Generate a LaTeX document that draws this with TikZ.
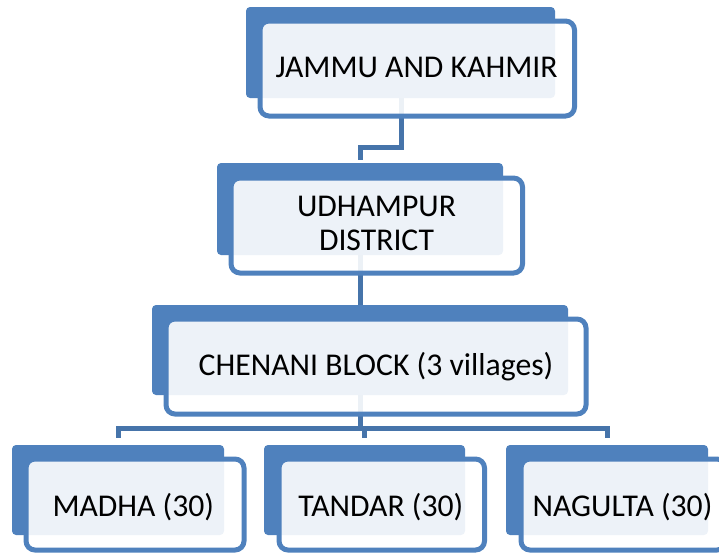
\documentclass[tikz,border=0pt]{standalone}
\usepackage{fontspec}
\setmainfont{Carlito}
\definecolor{boxblue}{HTML}{4F81BD}
\definecolor{linkblue}{HTML}{4674AA}
\tikzset{
  backbox/.style={fill=boxblue, rounded corners=4pt},
  frontbox/.style={draw=boxblue, line width=5pt, fill=white, fill opacity=0.9, rounded corners=9pt},
  lbl/.style={inner sep=0pt, anchor=base, text=black, font=\fontsize{31.7}{34}\selectfont},
  link/.style={draw=linkblue, line width=5pt}
}
\begin{document}
\begin{tikzpicture}[x=1pt, y=-1pt]
\useasboundingbox (0,0) rectangle (719,554);
% connector points
\coordinate (a1) at (401,95);
\coordinate (a2) at (401,147);
\coordinate (a3) at (360,147);
\coordinate (a4) at (360,160);
\coordinate (b1) at (360,250);
\coordinate (b2) at (360,305);
\coordinate (c1) at (360,395);
\coordinate (c2) at (360,428);
\coordinate (hl) at (118,428);
\coordinate (hm) at (364.5,428);
\coordinate (hr) at (607,428);
\coordinate (dl) at (118,438);
\coordinate (dm) at (364.5,438);
\coordinate (dr) at (607,438);
\draw[link] (a1) -- (a2) -- (a3) -- (a4);
\draw[link] (b1) -- (b2);
\draw[link] (c1) -- (c2);
\draw[link, line cap=rect] (hl) -- (hr);
\draw[link] (hl) -- (dl);
\draw[link] (hm) -- (dm);
\draw[link] (hr) -- (dr);
% Jammu and Kashmir
\fill[backbox] (246,7) rectangle (555,98);
\path[frontbox] (260,21) rectangle (574.5,116);
\node[lbl] (jk) at (416.5,77) {JAMMU AND KAHMIR};
% Udhampur
\fill[backbox] (217,163) rectangle (503,255);
\path[frontbox] (231,178) rectangle (522.5,273);
\node[lbl] (ud1) at (376.5,216.5) {UDHAMPUR};
\node[lbl] (ud2) at (376.5,250) {DISTRICT};
% Chenani
\fill[backbox] (152,305) rectangle (568,395);
\path[frontbox] (166,319) rectangle (586,414);
\node[lbl] (ch) at (376,375.5) {CHENANI BLOCK (3 villages)};
% Madha
\fill[backbox] (12,445) rectangle (224,535);
\path[frontbox] (26,459) rectangle (244,550);
\node[lbl] (ma) at (133.3,516) {MADHA (30)};
% Tandar
\fill[backbox] (264,445) rectangle (465,535);
\path[frontbox] (279,459) rectangle (484.5,550);
\node[lbl] (ta) at (380.8,516) {TANDAR (30)};
% Nagulta
\fill[backbox] (506,445) rectangle (708,535);
\path[frontbox] (521,459) rectangle (726,550);
\node[lbl] (na) at (622.5,516) {NAGULTA (30)};
\end{tikzpicture}
\end{document}
